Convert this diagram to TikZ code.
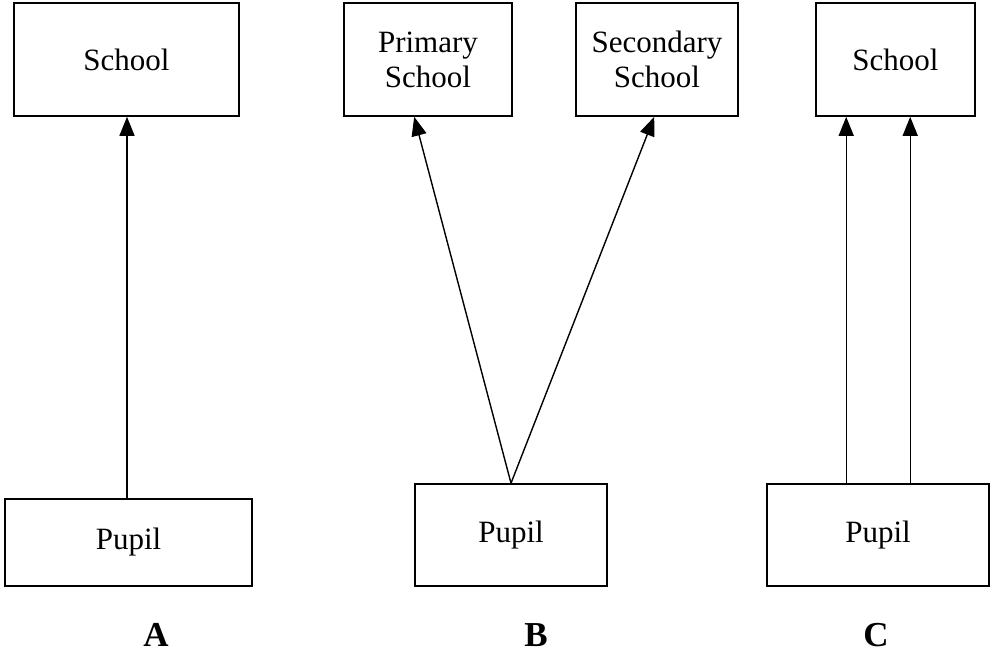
\documentclass[tikz,border=0pt]{standalone}
\usepackage{fontspec}
\setmainfont{Liberation Serif}
\usetikzlibrary{arrows.meta}
\begin{document}
\begin{tikzpicture}[x=1pt,y=1pt,
  box/.style={draw=black,line width=1.6pt,fill=white,align=center,inner sep=0pt,
    font=\fontsize{31}{35}\selectfont},
  arr/.style={line width=1.4pt,-{Triangle[length=19pt,width=15pt]}},
  lbl/.style={font=\fontsize{35}{38}\selectfont\bfseries,inner sep=0pt}]
\useasboundingbox (0,0) rectangle (992,653);
% A
\node[box,minimum width=225pt,minimum height=113pt] (aschool) at (126.5,593.5) {School};
\node[box,minimum width=247pt,minimum height=87pt] (apupil) at (128.5,110.5) {Pupil};
% B
\node[box,minimum width=168pt,minimum height=113pt] (prim) at (428,593.5) {Primary\\School};
\node[box,minimum width=162pt,minimum height=113pt] (sec) at (657,593.5) {Secondary\\School};
\node[box,minimum width=192pt,minimum height=102pt] (bpupil) at (511,118) {Pupil};
% C
\node[box,minimum width=159pt,minimum height=113pt] (cschool) at (895.5,593.5) {School};
\node[box,minimum width=222pt,minimum height=102pt] (cpupil) at (878,118) {Pupil};
% arrows
\draw[arr] ([xshift=-1.5pt]apupil.north) -- ([xshift=-1.5pt]apupil.north |- aschool.south);
\draw[arr] (bpupil.north) -- ([xshift=71pt]prim.south west);
\draw[arr] (bpupil.north) -- ([xshift=79pt]sec.south west);
\draw[arr] ([xshift=80pt]cpupil.north west) -- ([xshift=80pt]cpupil.north west |- cschool.south);
\draw[arr] ([xshift=144pt]cpupil.north west) -- ([xshift=144pt]cpupil.north west |- cschool.south);
% labels
\node[lbl] (la) at (156,18) {A};
\node[lbl] (lb) at (536,18) {B};
\node[lbl] (lc) at (876,18) {C};
\end{tikzpicture}
\end{document}
